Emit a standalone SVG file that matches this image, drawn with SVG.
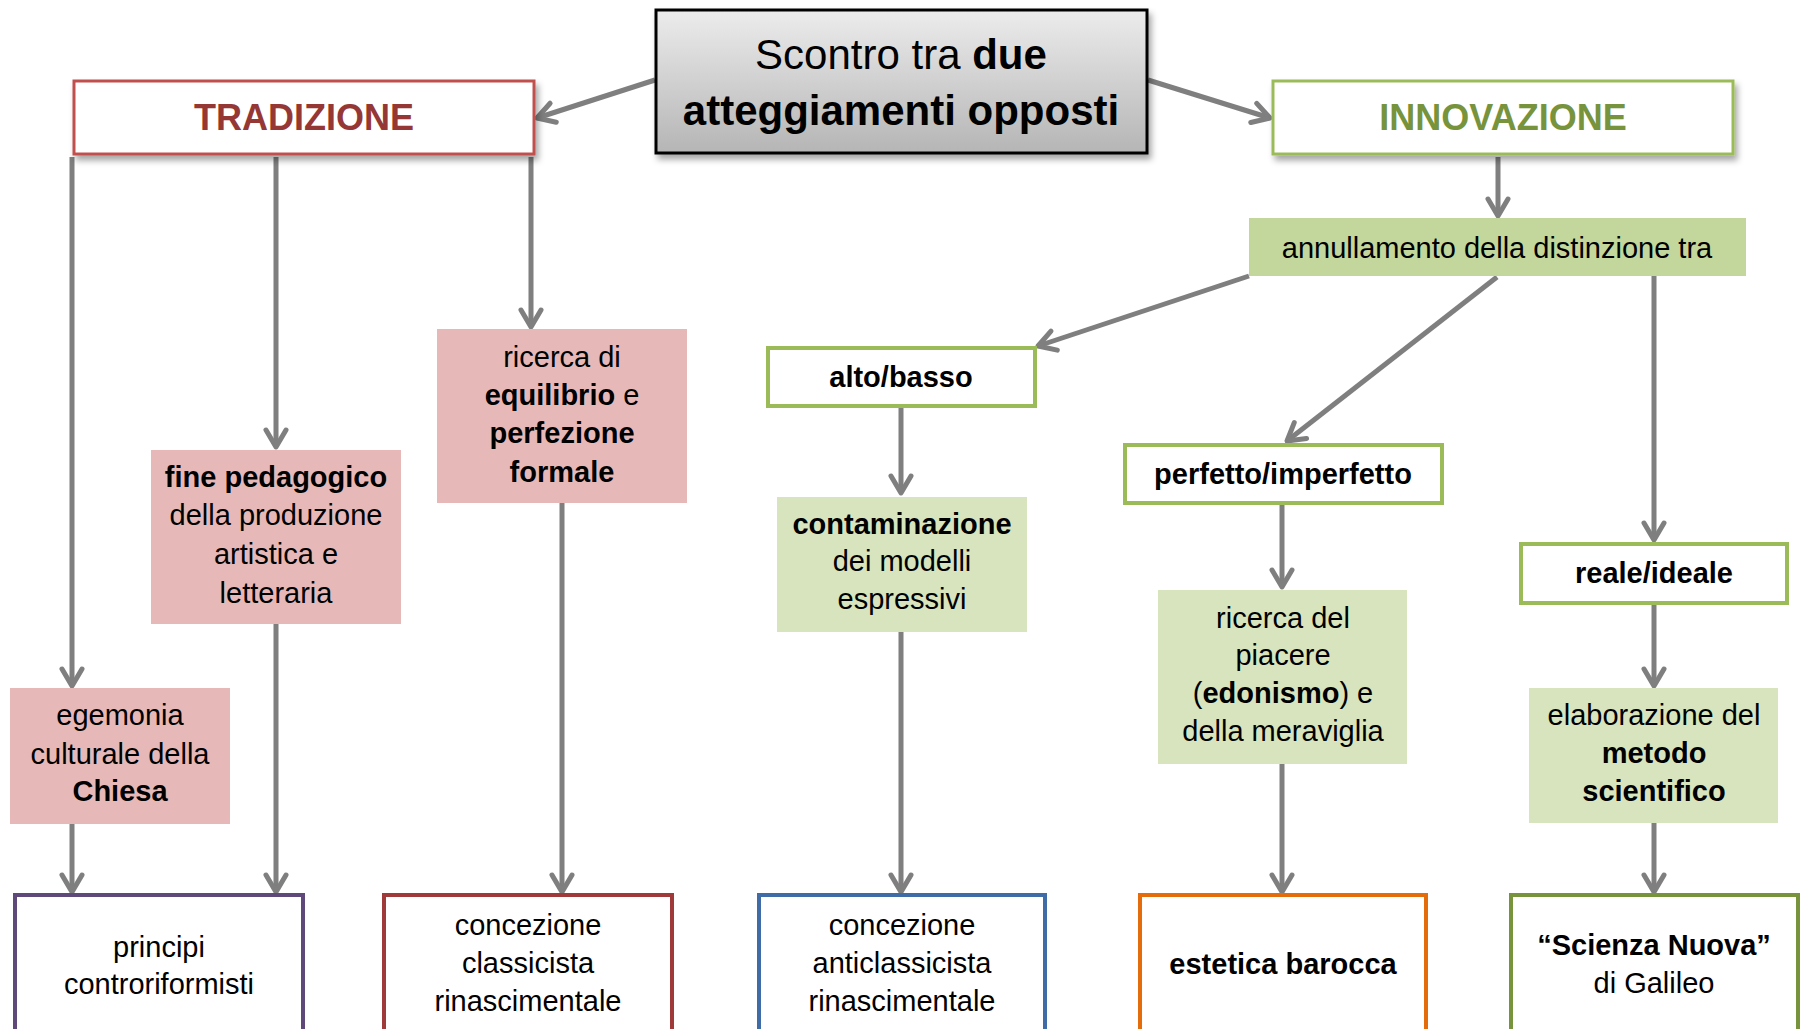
<svg xmlns="http://www.w3.org/2000/svg" width="1803" height="1029" viewBox="0 0 1803 1029">
<style>
.t { font-family: "Liberation Sans", Arial, sans-serif; font-size: 29px; fill: #000; text-anchor: middle; }
.b { font-weight: bold; }
.conn { stroke: #7f7f7f; stroke-width: 5; fill: none; marker-end: url(#arr); }
.pink { fill: #E6B9B8; }
.lg { fill: #D7E4BD; }
.gbox { fill: #fff; stroke: #9BBB59; stroke-width: 4; }
.bot { fill: #fff; stroke-width: 4; }
</style>
<defs>
<linearGradient id="grey" x1="0" y1="0" x2="0" y2="1">
<stop offset="0" stop-color="#ececec"/>
<stop offset="1" stop-color="#b5b5b5"/>
</linearGradient>
<filter id="sh" x="-10%" y="-20%" width="125%" height="160%">
<feDropShadow dx="3" dy="5" stdDeviation="3" flood-color="#000" flood-opacity="0.35"/>
</filter>
<marker id="arr" markerUnits="userSpaceOnUse" markerWidth="40" markerHeight="40" viewBox="-25 -20 40 40" refX="0" refY="0" orient="auto" overflow="visible">
<path d="M-17,-10 L0,0 L-17,10" fill="none" stroke="#7f7f7f" stroke-width="5" stroke-linecap="round" stroke-linejoin="round"/>
</marker>
</defs>
<rect width="1803" height="1029" fill="#fff"/>

<g id="connectors">
<line class="conn" x1="655" y1="80" x2="537" y2="118"/>
<line class="conn" x1="1148" y1="80" x2="1270" y2="118"/>
<line class="conn" x1="72" y1="157" x2="72" y2="686"/>
<line class="conn" x1="276" y1="157" x2="276" y2="447"/>
<line class="conn" x1="531" y1="157" x2="531" y2="327"/>
<line class="conn" x1="72" y1="824" x2="72" y2="892"/>
<line class="conn" x1="276" y1="624" x2="276" y2="892"/>
<line class="conn" x1="562" y1="503" x2="562" y2="892"/>
<line class="conn" x1="1498" y1="157" x2="1498" y2="216"/>
<line class="conn" x1="1249" y1="276" x2="1038" y2="346"/>
<line class="conn" x1="1497" y1="277" x2="1287" y2="441"/>
<line class="conn" x1="1654" y1="276" x2="1654" y2="540"/>
<line class="conn" x1="901" y1="407" x2="901" y2="493"/>
<line class="conn" x1="901" y1="632" x2="901" y2="892"/>
<line class="conn" x1="1282" y1="503" x2="1282" y2="587"/>
<line class="conn" x1="1282" y1="764" x2="1282" y2="892"/>
<line class="conn" x1="1654" y1="603" x2="1654" y2="686"/>
<line class="conn" x1="1654" y1="823" x2="1654" y2="892"/>
</g>

<g id="central">
<rect x="656" y="10" width="491" height="143" fill="url(#grey)" stroke="#000" stroke-width="3" filter="url(#sh)"/>
<text class="t" x="901" y="69" style="font-size:42px">Scontro tra <tspan class="b">due</tspan></text>
<text class="t b" x="901" y="125" style="font-size:42px">atteggiamenti opposti</text>
</g>

<g id="tradizione">
<rect x="74" y="81" width="460" height="73" fill="#fff" stroke="#C0504D" stroke-width="3" filter="url(#sh)"/>
<text class="t b" x="304" y="130" style="font-size:36px;fill:#953735">TRADIZIONE</text>
</g>

<g id="innovazione">
<rect x="1273" y="81" width="460" height="73" fill="#fff" stroke="#9BBB59" stroke-width="3" filter="url(#sh)"/>
<text class="t b" x="1503" y="130" style="font-size:36px;fill:#77933C">INNOVAZIONE</text>
</g>

<g id="ricerca-equilibrio">
<rect class="pink" x="437" y="329" width="250" height="174"/>
<text class="t" x="562" y="367">ricerca di</text>
<text class="t" x="562" y="405"><tspan class="b">equilibrio</tspan> e</text>
<text class="t b" x="562" y="443">perfezione</text>
<text class="t b" x="562" y="482">formale</text>
</g>

<g id="fine-pedagogico">
<rect class="pink" x="151" y="450" width="250" height="174"/>
<text class="t b" x="276" y="487">fine pedagogico</text>
<text class="t" x="276" y="525">della produzione</text>
<text class="t" x="276" y="564">artistica e</text>
<text class="t" x="276" y="603">letteraria</text>
</g>

<g id="egemonia">
<rect class="pink" x="10" y="688" width="220" height="136"/>
<text class="t" x="120" y="725">egemonia</text>
<text class="t" x="120" y="764">culturale della</text>
<text class="t b" x="120" y="801">Chiesa</text>
</g>

<g id="principi">
<rect class="bot" x="15" y="895" width="288" height="160" stroke="#5F497A"/>
<text class="t" x="159" y="957">principi</text>
<text class="t" x="159" y="994">controriformisti</text>
</g>

<g id="classicista">
<rect class="bot" x="384" y="895" width="288" height="160" stroke="#A03A3A"/>
<text class="t" x="528" y="935">concezione</text>
<text class="t" x="528" y="973">classicista</text>
<text class="t" x="528" y="1011">rinascimentale</text>
</g>

<g id="annullamento">
<rect x="1249" y="218" width="497" height="58" fill="#C3D69B"/>
<text class="t" x="1497" y="258">annullamento della distinzione tra</text>
</g>

<g id="alto-basso">
<rect class="gbox" x="768" y="348" width="267" height="58"/>
<text class="t b" x="901" y="387">alto/basso</text>
</g>

<g id="contaminazione">
<rect class="lg" x="777" y="497" width="250" height="135"/>
<text class="t b" x="902" y="534">contaminazione</text>
<text class="t" x="902" y="571">dei modelli</text>
<text class="t" x="902" y="609">espressivi</text>
</g>

<g id="anticlassicista">
<rect class="bot" x="759" y="895" width="286" height="160" stroke="#3F6CA6"/>
<text class="t" x="902" y="935">concezione</text>
<text class="t" x="902" y="973">anticlassicista</text>
<text class="t" x="902" y="1011">rinascimentale</text>
</g>

<g id="perfetto">
<rect class="gbox" x="1125" y="445" width="317" height="58"/>
<text class="t b" x="1283" y="484">perfetto/imperfetto</text>
</g>

<g id="piacere">
<rect class="lg" x="1158" y="590" width="249" height="174"/>
<text class="t" x="1283" y="628">ricerca del</text>
<text class="t" x="1283" y="665">piacere</text>
<text class="t" x="1283" y="703">(<tspan class="b">edonismo</tspan>) e</text>
<text class="t" x="1283" y="741">della meraviglia</text>
</g>

<g id="estetica">
<rect class="bot" x="1140" y="895" width="286" height="160" stroke="#E46C0A"/>
<text class="t b" x="1283" y="974">estetica barocca</text>
</g>

<g id="reale-ideale">
<rect class="gbox" x="1521" y="544" width="266" height="59"/>
<text class="t b" x="1654" y="583">reale/ideale</text>
</g>

<g id="elaborazione">
<rect class="lg" x="1529" y="688" width="249" height="135"/>
<text class="t" x="1654" y="725">elaborazione del</text>
<text class="t b" x="1654" y="763">metodo</text>
<text class="t b" x="1654" y="801">scientifico</text>
</g>

<g id="scienza-nuova">
<rect class="bot" x="1511" y="895" width="287" height="160" stroke="#77933C"/>
<text class="t b" x="1654" y="955">“Scienza Nuova”</text>
<text class="t" x="1654" y="993">di Galileo</text>
</g>
</svg>
